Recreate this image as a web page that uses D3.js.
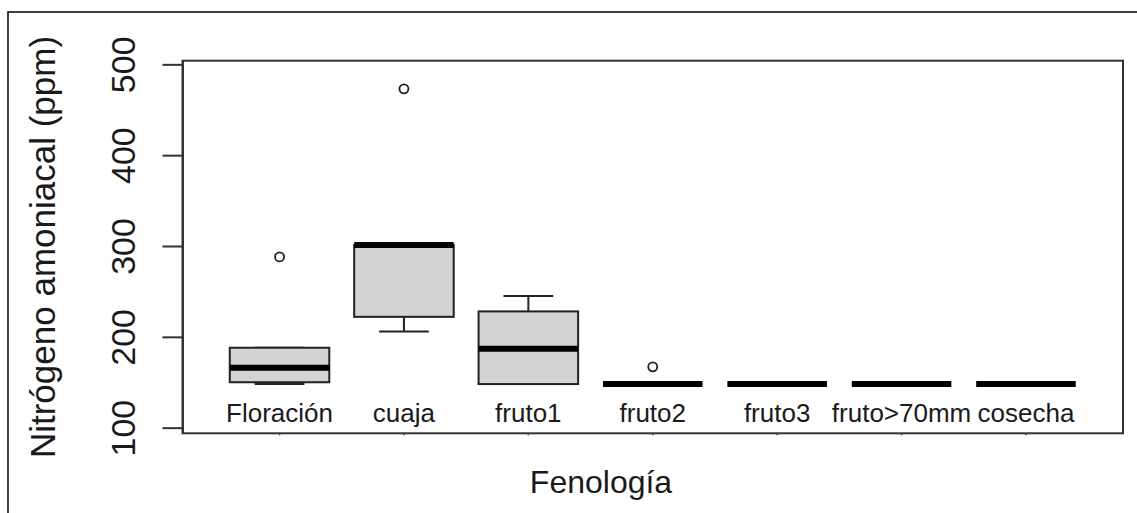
<!DOCTYPE html>
<html>
<head>
<meta charset="utf-8">
<script src="https://cdn.jsdelivr.net/npm/d3@7"></script>
<style>
  html, body { margin: 0; padding: 0; background: #fff; }
  svg { display: block; }
  text { font-family: "Liberation Sans", Arial, sans-serif; fill: #1a1a1a; }
</style>
</head>
<body>
<svg id="chart" width="1137" height="513"></svg>
<script>
// ---- data ----
const categories = ["Floración", "cuaja", "fruto1", "fruto2", "fruto3", "fruto>70mm", "cosecha"];
const whiskerLow  = [148, 206, 148, 148, 148, 148, 148];
const q1          = [150, 222, 148, 148, 148, 148, 148];
const median      = [166, 301, 187, 148, 148, 148, 148];
const q3          = [188, 301, 228, 148, 148, 148, 148];
const whiskerHigh = [188, 301, 245, 148, 148, 148, 148];
const outlierCat  = ["Floración", "cuaja", "fruto2"];
const outlierVal  = [288, 473, 167];
const yTicks = [100, 200, 300, 400, 500];
const yLimits = [93.8, 504];
const yTitle = "Nitrógeno amoniacal (ppm)";
const xTitle = "Fenología";

// ---- layout ----
const svg = d3.select("#chart");
const plot = { left: 182.5, right: 1123, top: 60.7, bottom: 433.3 };
const n = categories.length;
const x = d3.scaleLinear().domain([1 - 0.78, n + 0.78]).range([plot.left, plot.right]);
const y = d3.scaleLinear().domain(yLimits).range([plot.bottom, plot.top]);
const boxW = x(1.4) - x(0.6);
const stapleW = boxW / 2;

// outer frame
svg.append("rect").attr("x", 8).attr("y", 12).attr("width", 1140).attr("height", 520)
  .attr("fill", "none").attr("stroke", "#111").attr("stroke-width", 1.6);

// boxes
const data = categories.map((c, i) => ({
  c, i, lo: whiskerLow[i], q1: q1[i], med: median[i], q3: q3[i], hi: whiskerHigh[i]
}));
const g = svg.append("g");
data.forEach(d => {
  const cx = x(d.i + 1);
  // whiskers
  g.append("line").attr("x1", cx).attr("x2", cx).attr("y1", y(d.q1)).attr("y2", y(d.lo))
    .attr("stroke", "#222").attr("stroke-width", 2);
  g.append("line").attr("x1", cx).attr("x2", cx).attr("y1", y(d.q3)).attr("y2", y(d.hi))
    .attr("stroke", "#222").attr("stroke-width", 2);
  // staples
  [d.lo, d.hi].forEach(v => {
    g.append("line").attr("x1", cx - stapleW / 2).attr("x2", cx + stapleW / 2)
      .attr("y1", y(v)).attr("y2", y(v)).attr("stroke", "#222").attr("stroke-width", 2);
  });
  // box
  g.append("rect").attr("x", cx - boxW / 2).attr("width", boxW)
    .attr("y", y(d.q3)).attr("height", Math.max(0, y(d.q1) - y(d.q3)))
    .attr("fill", "#d3d3d3").attr("stroke", "#222").attr("stroke-width", 2);
  // median
  g.append("line").attr("x1", cx - boxW / 2).attr("x2", cx + boxW / 2)
    .attr("y1", y(d.med)).attr("y2", y(d.med))
    .attr("stroke", "#000").attr("stroke-width", 6);
});

// outliers
outlierCat.forEach((c, k) => {
  const i = categories.indexOf(c);
  g.append("circle").attr("cx", x(i + 1)).attr("cy", y(outlierVal[k])).attr("r", 4.5)
    .attr("fill", "none").attr("stroke", "#222").attr("stroke-width", 1.8);
});

// plot box
svg.append("rect").attr("x", plot.left).attr("y", plot.top)
  .attr("width", plot.right - plot.left).attr("height", plot.bottom - plot.top)
  .attr("fill", "none").attr("stroke", "#333").attr("stroke-width", 2);

// y axis
const yAxis = d3.axisLeft(y).tickValues(yTicks).tickSize(20).tickSizeOuter(0).tickFormat(d3.format("d"));
const ya = svg.append("g").attr("transform", `translate(${plot.left},0)`).call(yAxis);
ya.select(".domain").attr("stroke", "#333").attr("stroke-width", 2);
ya.selectAll(".tick line").attr("stroke", "#333").attr("stroke-width", 2);
ya.selectAll(".tick text")
  .attr("x", null).attr("dy", null)
  .attr("transform", "translate(-47.5,0) rotate(-90)")
  .attr("text-anchor", "middle")
  .style("font-size", "34px")
  .style("font-family", "'Liberation Sans', Arial, sans-serif")
  .attr("fill", "#1a1a1a");

// x small ticks
svg.append("g").selectAll("line").data(data).join("line")
  .attr("x1", d => x(d.i + 1)).attr("x2", d => x(d.i + 1))
  .attr("y1", plot.bottom).attr("y2", plot.bottom + 2)
  .attr("stroke", "#444").attr("stroke-width", 1.5);

// category labels inside plot
svg.append("g").selectAll("text").data(data).join("text")
  .attr("x", d => x(d.i + 1)).attr("y", 422)
  .attr("text-anchor", "middle")
  .style("font-size", "26px")
  .text(d => d.c);

// axis titles
svg.append("text")
  .attr("transform", `translate(55,247) rotate(-90)`)
  .attr("text-anchor", "middle")
  .style("font-size", "35px")
  .text(yTitle);
svg.append("text")
  .attr("x", 601).attr("y", 493)
  .attr("text-anchor", "middle")
  .style("font-size", "32px")
  .text(xTitle);
</script>
</body>
</html>
